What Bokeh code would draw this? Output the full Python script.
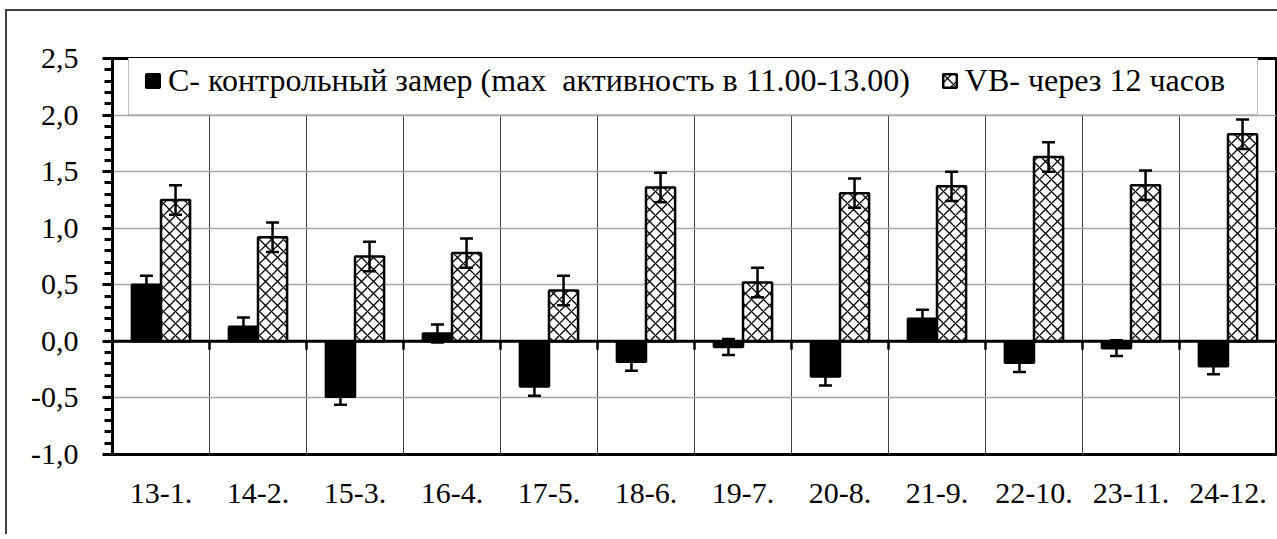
from bokeh.plotting import figure
from bokeh.models import (ColumnDataSource, Whisker, TeeHead, Span, Legend, LegendItem,
                          SingleIntervalTicker, FixedTicker, CustomJSTickFormatter, Range1d)
from bokeh.embed import file_html
from bokeh.resources import INLINE

categories = ["13-1.", "14-2.", "15-3.", "16-4.", "17-5.", "18-6.",
              "19-7.", "20-8.", "21-9.", "22-10.", "23-11.", "24-12."]
control = [0.50, 0.13, -0.49, 0.07, -0.40, -0.18, -0.05, -0.31, 0.20, -0.19, -0.06, -0.22]
control_err = [0.08, 0.08, 0.07, 0.08, 0.08, 0.08, 0.07, 0.08, 0.08, 0.08, 0.07, 0.07]
vb = [1.25, 0.92, 0.75, 0.78, 0.45, 1.36, 0.52, 1.31, 1.37, 1.63, 1.38, 1.83]
vb_err = [0.13, 0.13, 0.13, 0.13, 0.13, 0.13, 0.13, 0.13, 0.13, 0.13, 0.13, 0.13]
label_c = "С- контрольный замер (max  активность в 11.00-13.00)"
label_vb = "VB- через 12 часов"

FONT = "'Liberation Serif', 'Times New Roman', serif"
FS = "30px"
n = len(categories)
centers = [i + 0.5 for i in range(n)]
bw = 0.30

src_c = ColumnDataSource(dict(
    x=[c - bw / 2 for c in centers], top=control,
    lo=[v - e for v, e in zip(control, control_err)],
    hi=[v + e for v, e in zip(control, control_err)]))
src_v = ColumnDataSource(dict(
    x=[c + bw / 2 for c in centers], top=vb,
    lo=[v - e for v, e in zip(vb, vb_err)],
    hi=[v + e for v, e in zip(vb, vb_err)]))

p = figure(x_range=Range1d(0, n), y_range=Range1d(-1.0, 2.5),
           frame_width=1164, frame_height=396,
           min_border_left=105, min_border_top=47, min_border_right=2, min_border_bottom=80,
           output_backend="svg", toolbar_location=None)
p.styles = {"margin-left": "5px", "margin-top": "9px",
            "border-top": "2px solid #404040", "border-left": "2px solid #404040"}

p.outline_line_color = "black"
p.outline_line_width = 3
p.background_fill_color = "white"
p.border_fill_color = "white"

# grids
p.ygrid.ticker = SingleIntervalTicker(interval=0.5)
p.ygrid.grid_line_color = "#a6a6a6"
p.ygrid.grid_line_width = 1.5
p.xgrid.ticker = FixedTicker(ticks=list(range(0, n + 1)))
p.xgrid.grid_line_color = "#404040"
p.xgrid.grid_line_width = 1

# y axis
p.yaxis.ticker = SingleIntervalTicker(interval=0.5, num_minor_ticks=5)
p.yaxis.formatter = CustomJSTickFormatter(code="return tick.toFixed(1).replace('.', ',');")
p.yaxis.axis_line_width = 3
p.yaxis.axis_line_color = "black"
p.yaxis.major_tick_line_width = 3
p.yaxis.minor_tick_line_width = 3
p.yaxis.major_tick_in = 0
p.yaxis.minor_tick_in = 0
p.yaxis.major_tick_out = 10
p.yaxis.minor_tick_out = 8
p.yaxis.major_label_standoff = 24
p.yaxis.major_label_text_font = FONT
p.yaxis.major_label_text_font_size = FS
p.yaxis.major_label_text_color = "black"

# x axis (labels at the bottom)
p.xaxis.ticker = FixedTicker(ticks=centers)
p.xaxis.major_label_overrides = {c: cat for c, cat in zip(centers, categories)}
p.xaxis.axis_line_color = None
p.xaxis.major_tick_line_color = None
p.xaxis.minor_tick_line_color = None
p.xaxis.major_tick_out = 0
p.xaxis.major_label_standoff = 29
p.xaxis.major_label_text_font = FONT
p.xaxis.major_label_text_font_size = FS
p.xaxis.major_label_text_color = "black"

# bars
r_c = p.vbar(x="x", top="top", bottom=0, width=bw, source=src_c,
             fill_color="black", line_color="black", line_width=2.5)
r_v = p.vbar(x="x", top="top", bottom=0, width=bw, source=src_v,
             fill_color="white", line_color="black", line_width=2.5,
             hatch_pattern="diagonal_cross", hatch_color="black",
             hatch_scale=12, hatch_weight=1.3)

# error bars
for src in (src_c, src_v):
    w = Whisker(source=src, base="x", lower="lo", upper="hi",
                line_color="black", line_width=2.5, level="overlay",
                upper_head=TeeHead(size=13, line_width=2.5, line_color="black"),
                lower_head=TeeHead(size=13, line_width=2.5, line_color="black"))
    p.add_layout(w)

# zero line with downward ticks at category boundaries
p.add_layout(Span(location=0, dimension="width", line_color="black", line_width=3))
bounds = list(range(1, n))
p.segment(x0=bounds, x1=bounds, y0=[0] * len(bounds), y1=[-0.075] * len(bounds),
          line_color="black", line_width=2.5)

legend = Legend(items=[LegendItem(label=label_c, renderers=[r_c]),
                       LegendItem(label=label_vb, renderers=[r_v])],
                orientation="horizontal", location=(16, 339),
                label_text_font=FONT, label_text_font_size="32px",
                label_text_color="black", glyph_width=17, glyph_height=17,
                label_standoff=7, label_width=277, spacing=31, padding=15, margin=0,
                border_line_color="#808080", border_line_width=1.5,
                background_fill_color="white", background_fill_alpha=1.0)
p.add_layout(legend, "center")

open("out.html", "w").write(file_html(p, INLINE))
